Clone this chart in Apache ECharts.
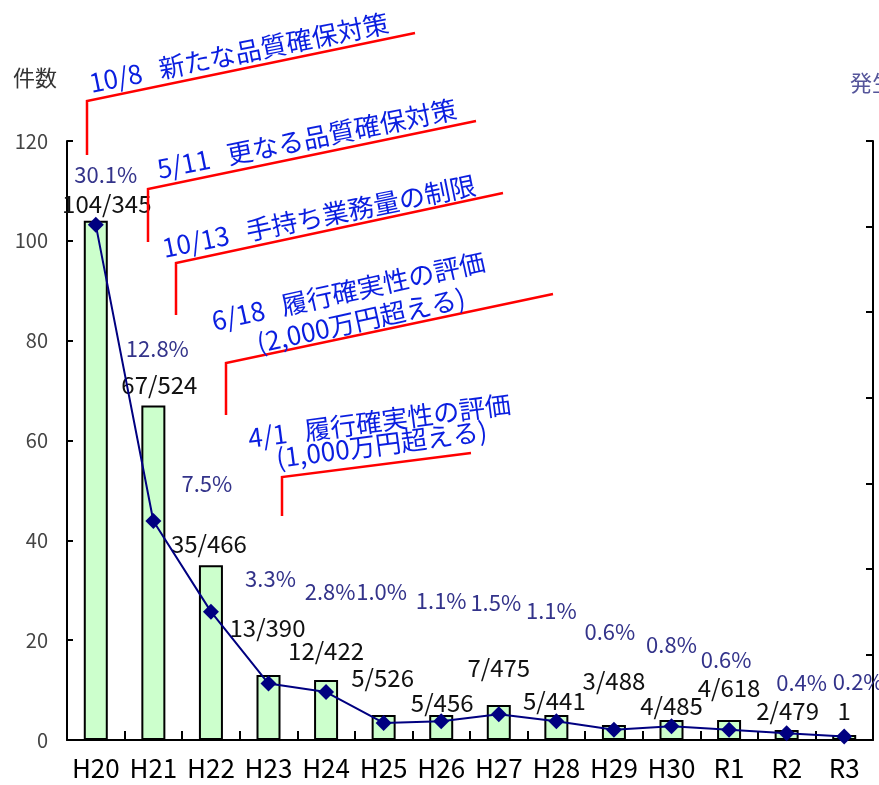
<!DOCTYPE html>
<html><head><meta charset="utf-8">
<script src="https://cdn.jsdelivr.net/npm/echarts@6/dist/echarts.min.js"></script>
<style>html,body{margin:0;padding:0;background:#fff}#c{width:879px;height:785px}</style>
</head><body><div id="c"></div>
<script>
// ---- data ----
const categories = ['H20','H21','H22','H23','H24','H25','H26','H27','H28','H29','H30','R1','R2','R3'];
const counts = [104,67,35,13,12,5,5,7,5,3,4,4,2,1];
const totals = [345,524,466,390,422,526,456,475,441,488,485,618,479,null];
const rates = [30.1,12.8,7.5,3.3,2.8,1.0,1.1,1.5,1.1,0.6,0.8,0.6,0.4,0.2];
const countAxis = {min:0, max:120, interval:20};
const rateAxis = {min:0, max:35, interval:5};
const annotationLines = [
  ['10/8   新たな品質確保対策'],
  ['5/11   更なる品質確保対策'],
  ['10/13   手持ち業務量の制限'],
  ['6/18   履行確実性の評価','(2,000万円超える)'],
  ['4/1   履行確実性の評価','(1,000万円超える)']
];
// ---- layout (label offsets, annotation placement) ----
const barLabelOffsets = [[11,-5],[6,-9],[-2,-9],[-1,-35],[0,-17],[-1,-25],[1,0],[0,-25],[-2,-2],[0,-32],[0,-2],[0,-20],[1,-7],[0,-12]];
const rateLabelOffsets = [[10,-31],[4,-153],[-4,-109],[2,-86],[4,-81],[-2,-112],[0,-102],[-3,-93],[-5,-92],[-4,-79],[0,-63],[-3,-51],[15,-32],[14,-36]];
const annLayout = [
  {text:[[92,96]], ang:11.5, line:[[87,155],[87,101],[415,33]]},
  {text:[[160,182]], ang:11.5, line:[[148,242],[148,189],[476,121]]},
  {text:[[165,261]], ang:11.5, line:[[176,315],[176,263],[503,193]]},
  {text:[[215,334],[260,356]], ang:12.5, line:[[226,415],[226,363],[553,294]]},
  {text:[[250,451],[278,471]], ang:7.5, line:[[282,516],[282,477],[471,453]]}
];
const FF = "'Noto Sans CJK JP', 'Noto Sans', sans-serif";

const graphics = [];
annotationLines.forEach((lines, i) => {
  const L = annLayout[i];
  graphics.push({type:'polyline', shape:{points:L.line}, style:{stroke:'#ff0000', lineWidth:2.5, fill:null}, z:10});
  lines.forEach((t, j) => {
    graphics.push({type:'text', x:L.text[j][0], y:L.text[j][1], rotation:L.ang*Math.PI/180,
      style:{text:t, fill:'#0a1ee0', font:'26px ' + FF, fontSize:26, fontFamily:FF,
        align:'left', verticalAlign:'bottom', textAlign:'left', textVerticalAlign:'bottom'}, z:11});
  });
});
graphics.push({type:'text', x:850, y:83, style:{text:'発生率', fill:'#55559a', font:'22px ' + FF, fontSize:22, fontFamily:FF,
  align:'left', verticalAlign:'middle', textAlign:'left', textVerticalAlign:'middle'}});

const chart = echarts.init(document.getElementById('c'), null, {renderer:'canvas'});
chart.setOption({
  animation:false,
  backgroundColor:'#fff',
  textStyle:{fontFamily:FF},
  grid:{left:67, right:6, top:141, bottom:45, containLabel:false},
  xAxis:{type:'category', data:categories,
    axisLine:{show:true, lineStyle:{color:'#000', width:2}},
    axisTick:{show:true, interval:0, inside:true, length:9, lineStyle:{color:'#000', width:2}},
    axisLabel:{interval:0, fontSize:26, color:'#000', margin:15, fontFamily:FF}},
  yAxis:[
    {type:'value', min:countAxis.min, max:countAxis.max, interval:countAxis.interval,
      name:'件数', nameLocation:'end', nameGap:63,
      nameTextStyle:{fontSize:22, color:'#333', align:'right', verticalAlign:'middle', padding:[0,10,0,0], fontFamily:FF},
      axisLine:{show:true, lineStyle:{color:'#000', width:2}},
      axisTick:{show:true, inside:true, length:6, lineStyle:{color:'#000', width:2}},
      splitLine:{show:false},
      axisLabel:{fontSize:20, color:'#444', margin:19, fontFamily:FF}},
    {type:'value', min:rateAxis.min, max:rateAxis.max, interval:rateAxis.interval, position:'right',
      axisLine:{show:true, lineStyle:{color:'#000', width:2}},
      axisTick:{show:true, inside:true, length:7, lineStyle:{color:'#000', width:2}},
      splitLine:{show:false},
      axisLabel:{show:false}}
  ],
  series:[
    {type:'bar', yAxisIndex:0, barWidth:24,
      data:counts.map((v,i)=>({value:v, label:{offset:barLabelOffsets[i]}})),
      itemStyle:{color:'#ccffcc', borderColor:'#000', borderWidth:2},
      label:{show:true, position:'top', distance:0, fontSize:24, color:'#111', fontFamily:FF,
        formatter:p => totals[p.dataIndex] != null ? counts[p.dataIndex] + '/' + totals[p.dataIndex] : String(counts[p.dataIndex])},
      z:2},
    {type:'line', yAxisIndex:1, symbol:'diamond', symbolSize:16,
      data:rates.map((v,i)=>({value:v, label:{offset:rateLabelOffsets[i]}})),
      itemStyle:{color:'#000080'}, lineStyle:{color:'#000080', width:2},
      label:{show:true, position:'top', distance:0, fontSize:22, color:'#33338a', fontFamily:FF,
        formatter:p => rates[p.dataIndex].toFixed(1) + '%'},
      z:3}
  ],
  graphic:graphics
});
</script></body></html>
